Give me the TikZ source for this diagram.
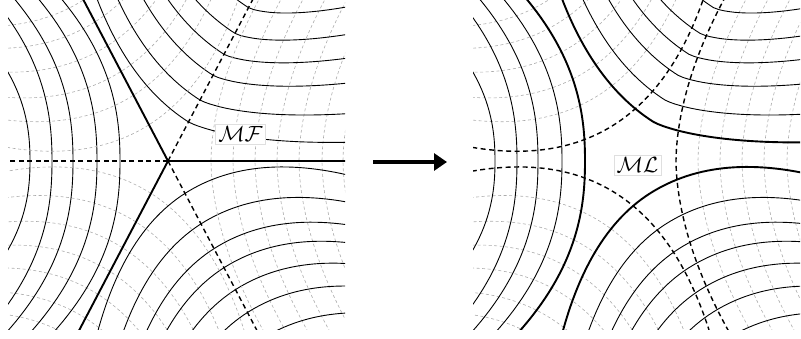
\documentclass[tikz,border=0pt]{standalone}
\usepackage{amsmath,amssymb}
\usetikzlibrary{arrows.meta}

% leaf of a sector: #1 style, #2 direction of the sector's middle line, #3 distance on it,
% #4/#5 and #6/#7 bend (at 100pt off the middle line) and power on the two sides
\newcommand{\drawleaf}[7]{%
  \draw[#1] plot[domain=-250:0, samples=51, variable=\vv]
      ({(#3+#4*((abs(\vv)+0.01)/100)^#5)*cos(#2) - \vv*sin(#2)},
       {(#3+#4*((abs(\vv)+0.01)/100)^#5)*sin(#2) + \vv*cos(#2)})
    -- plot[domain=0:250, samples=51, variable=\vv]
      ({(#3+#6*((\vv+0.01)/100)^#7)*cos(#2) - \vv*sin(#2)},
       {(#3+#6*((\vv+0.01)/100)^#7)*sin(#2) + \vv*cos(#2)});
}

\begin{document}
\begin{tikzpicture}[x=1pt, y=1pt,
    % --- Leaf styles ---
    leaf/.style={line width=0.9pt},
    edgeleaf/.style={line width=1.9pt},
    prong/.style={line width=1.9pt},
    % --- Transverse styles ---
    cross/.style={gray!65, line width=0.6pt, dash pattern=on 3pt off 2.5pt},
    edgecross/.style={line width=1.4pt, dash pattern=on 5pt off 3.5pt},
    % --- Label and arrow styles ---
    tag/.style={draw=gray!25, fill=white, line width=0.5pt, inner sep=2.5pt,
                font=\huge, scale=1.06, transform shape},
    flow/.style={-{Triangle[length=13pt, width=17pt]}, line width=3pt},
]
\useasboundingbox (0,0) rectangle (801,338);

% === Two panels: the foliation, then its split lamination ===
\foreach \cx/\xmax/\lstyle/\cstyle in {168/177/leaf/cross, 633/167/edgeleaf/edgecross} {
  \begin{scope}[shift={(\cx,177)}, yscale=1.1]
    \clip (-160,-153.6) rectangle (\xmax,146.4);
    % transverse leaves
    \foreach \md/\R/\B/\p in {0/65/24/1.8, 0/87/24/1.8, 0/109/24/1.8, 0/131/24/1.8,
                              0/154/24/1.8, 0/175/24/1.8,
                              120/69/30/2, 120/94/30/2, 120/121/30/2, 120/146/30/2, 120/169/30/2,
                              240/64/30/2, 240/91/30/2, 240/116/30/2, 240/140/30/2,
                              240/165/30/2, 240/187/30/2}
      \drawleaf{cross}{\md}{\R}{\B}{\p}{\B}{\p};
    % leaves
    \foreach \md/\R/\Ba/\pa/\Bb/\pb in {60/64/42/1.39/28/2, 60/90/47.4/1.39/28/2,
        60/112/52.3/1.39/28/2, 60/134/57.1/1.39/28/2, 60/161/62.5/1.39/28/2,
        180/71/24/2.3/24/2.3, 180/95/24/2.3/24/2.3, 180/116/24/2.3/24/2.3,
        180/138/36/2.3/36/2.3,
        300/66/34/2/30/2, 300/92/34/2/30/2, 300/112/34/2/30/2,
        300/135/34/2/30/2, 300/159/34/2/30/2, 300/187/34/2/30/2}
      \drawleaf{leaf}{\md}{\R}{\Ba}{\pa}{\Bb}{\pb};
    % innermost leaves of each sector
    \drawleaf{\cstyle}{0}{43}{24}{1.8}{24}{1.8};
    \drawleaf{\cstyle}{120}{38}{30}{2}{30}{2};
    \drawleaf{\cstyle}{240}{34}{30}{2}{30}{2};
    \drawleaf{\lstyle}{60}{41}{37.2}{1.39}{28}{2};
    \drawleaf{\lstyle}{180}{48}{24}{2.3}{24}{2.3};
    \drawleaf{\lstyle}{300}{34}{34}{2}{30}{2};
    % singular leaves (foliation only)
    \ifnum\cx=168
      \coordinate (sing) at (0,0);
      \foreach \dir in {60,180,300} \draw[edgecross] (sing) -- (\dir:260);
      \foreach \dir in {0,120,240} \draw[prong] (sing) -- (\dir:260);
    \fi
  \end{scope}
}

% === Labels ===
\node[tag] (mf) at (240.5,204) {$\mathcal{MF}$};
\node[tag] (ml) at (637.5,173) {$\mathcal{ML}$};

% === Arrow between the panels ===
\coordinate (gapleft) at (373,176);
\coordinate (gapright) at (447,176);
\draw[flow] (gapleft) -- (gapright);

\end{tikzpicture}
\end{document}
